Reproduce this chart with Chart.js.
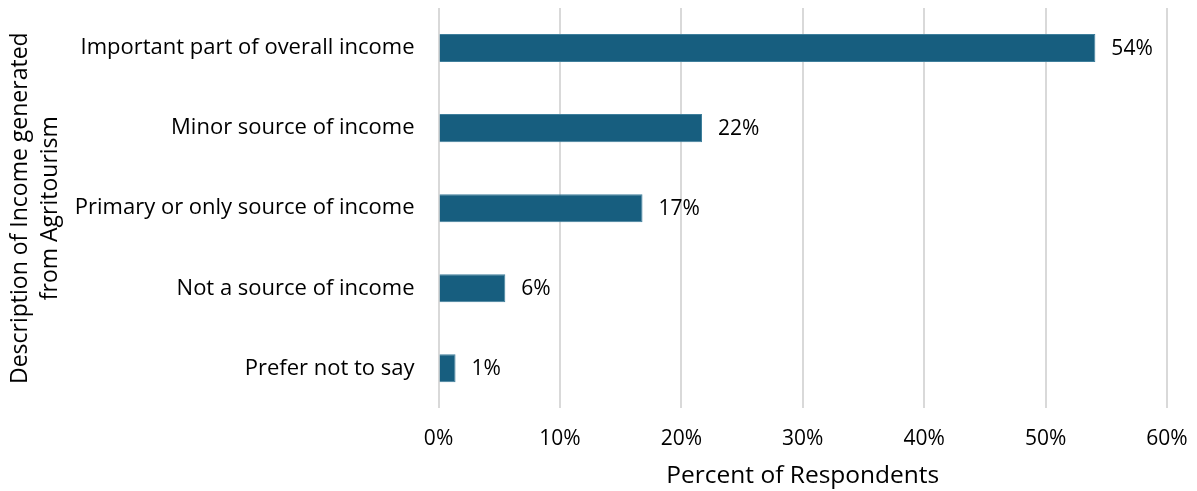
<!DOCTYPE html>
<html lang="en">
<head>
    <meta charset="UTF-8">
    <title>Agritourism income</title>
    <style>
        html, body { margin: 0; padding: 0; background: #fff; }
        #wrap { width: 1197px; height: 491px; }
    </style>
</head>
<body>
    <div id="wrap">
        <canvas id="myChart"></canvas>
    </div>
    <script src="https://cdn.jsdelivr.net/npm/chart.js"></script>
    <script>
        // data
        const categories = [
            'Important part of overall income',
            'Minor source of income',
            'Primary or only source of income',
            'Not a source of income',
            'Prefer not to say'
        ];
        const percentValues = [54.1, 21.7, 16.8, 5.5, 1.4];
        const percentLabels = ['54%', '22%', '17%', '6%', '1%'];
        const xTicks = [0, 10, 20, 30, 40, 50, 60];

        const fontFamily = '"Open Sans", "Liberation Sans", sans-serif';

        // draws the "54%" etc. to the right of each bar
        const barLabels = {
            id: 'barLabels',
            afterDatasetsDraw(chart) {
                const c = chart.ctx;
                const meta = chart.getDatasetMeta(0);
                c.save();
                c.font = '21px ' + fontFamily;
                c.fillStyle = '#000';
                c.textAlign = 'left';
                c.textBaseline = 'middle';
                meta.data.forEach(function (bar, i) {
                    c.fillText(percentLabels[i], bar.x + 16, bar.y + 1);
                });
                c.restore();
            }
        };

        const ctx = document.querySelector('#myChart');
        const myChart = new Chart(ctx, {
            type: 'bar',
            data: {
                labels: categories,
                datasets: [{
                    data: percentValues,
                    backgroundColor: '#175e7f',
                    borderColor: '#3f7f9c',
                    borderWidth: 1,
                    barPercentage: 0.7,
                    categoryPercentage: 0.5
                }]
            },
            plugins: [barLabels],
            options: {
                indexAxis: 'y',
                responsive: true,
                maintainAspectRatio: false,
                animation: false,
                layout: { padding: { top: 8, right: 30, bottom: 0, left: 6 } },
                plugins: {
                    legend: { display: false },
                    tooltip: { enabled: false }
                },
                scales: {
                    x: {
                        min: 0,
                        max: 60,
                        afterBuildTicks(axis) {
                            axis.ticks = xTicks.map(v => ({ value: v }));
                        },
                        // chart.js counts tick padding twice, take one back
                        afterFit(axis) {
                            axis.paddingLeft = 0;
                            axis.paddingRight = 0;
                            axis.height -= axis.options.ticks.padding;
                        },
                        grid: { color: '#d9d9d9', lineWidth: 2, drawTicks: false },
                        border: { display: false },
                        ticks: {
                            padding: 18,
                            color: '#000',
                            font: { family: fontFamily, size: 21 },
                            callback: v => v + '%'
                        },
                        title: {
                            display: true,
                            text: 'Percent of Respondents',
                            color: '#000',
                            font: { family: fontFamily, size: 24.5 },
                            padding: { top: 10, bottom: 0 }
                        }
                    },
                    y: {
                        afterFit(axis) {
                            axis.paddingTop = 0;
                            axis.paddingBottom = 0;
                            axis.width -= axis.options.ticks.padding;
                        },
                        grid: { display: false, drawTicks: false },
                        border: { display: false },
                        ticks: {
                            padding: 24,
                            color: '#000',
                            font: { family: fontFamily, size: 22 }
                        },
                        title: {
                            display: true,
                            text: ['Description of Income generated', 'from Agritourism'],
                            color: '#000',
                            font: { family: fontFamily, size: 23, lineHeight: 1.3 },
                            padding: { top: 0, bottom: 9 }
                        }
                    }
                }
            }
        });
    </script>
</body>
</html>
